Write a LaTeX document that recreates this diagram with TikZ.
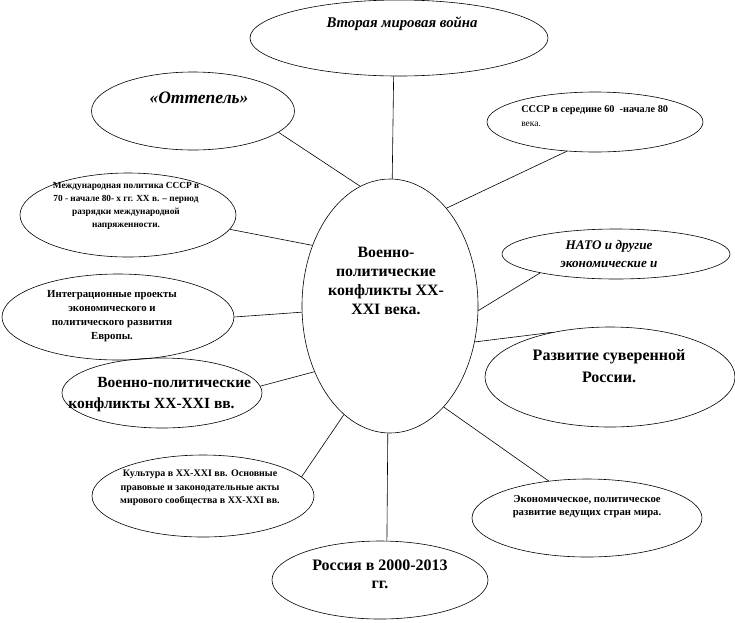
\documentclass[tikz,border=0pt]{standalone}
\usepackage{fontspec}
\setmainfont{Liberation Serif}
\usepackage{tikz}
\usetikzlibrary{shapes.geometric}
\newcommand{\fsz}[2]{\fontsize{#1}{#2}\selectfont}

\begin{document}
\begin{tikzpicture}[x=1pt,y=-1pt,line width=0.6pt,
  bubble/.style={draw,ellipse,inner sep=0pt},
  txt/.style={align=center,inner sep=0pt,font=\bfseries}]
  \useasboundingbox (0,0) rectangle (735,622);
  % ellipses
  \node[bubble,minimum width=176pt,minimum height=254pt](hub) at (390,306) {};
  \node[bubble,minimum width=298pt,minimum height=76pt](war) at (399,38) {};
  \node[bubble,minimum width=203pt,minimum height=78pt](thaw) at (193,111) {};
  \node[bubble,minimum width=216pt,minimum height=60pt](ussr) at (595,122) {};
  \node[bubble,minimum width=216pt,minimum height=84pt](intl) at (128,215) {};
  \node[bubble,minimum width=228pt,minimum height=50pt](nato) at (616,254) {};
  \node[bubble,minimum width=232pt,minimum height=86pt](integ) at (118,317) {};
  \node[bubble,minimum width=250pt,minimum height=100pt](devel) at (610,377) {};
  \node[bubble,minimum width=200pt,minimum height=70pt](wars) at (162,393) {};
  \node[bubble,minimum width=222pt,minimum height=82pt](cult) at (203,496) {};
  \node[bubble,minimum width=230pt,minimum height=78pt](econ) at (587,518) {};
  \node[bubble,minimum width=216pt,minimum height=78pt](russia) at (380,580) {};
  % texts
  \node[txt,font=\bfseries\fsz{15.8}{19}](hub-t) at (386,281) {Военно-\\политические\\конфликты XX-\\XXI века.};
  \node[txt,font=\bfseries\itshape\fsz{14.8}{17}](war-t) at (402,24) {Вторая мировая война};
  \node[txt,font=\bfseries\itshape\fsz{17.5}{20}](thaw-t) at (199,98) {«Оттепель»};
  \node[txt,align=left,anchor=west,font=\fsz{10.3}{14}](ussr-t) at (521,116) {\textbf{СССР в середине 60\ \ -начале 80}\\{\fsz{9.5}{14}века.}};
  \node[txt,font=\bfseries\fsz{9.3}{13}](intl-t) at (126,206) {Международная политика СССР в\\70 - начале 80- х гг. XX в. – период\\разрядки международной\\напряженности.};
  \node[txt,font=\bfseries\itshape\fsz{13.2}{18}](nato-t) at (609,254) {НАТО и другие\\экономические и};
  \node[txt,font=\bfseries\fsz{10.8}{14}](integ-t) at (112,316) {Интеграционные проекты\\экономического и\\политического развития\\Европы.};
  \node[txt,font=\bfseries\fsz{16}{22}](devel-t) at (609,366) {Развитие суверенной\\России.};
  \node[txt,align=left,anchor=west,font=\bfseries\fsz{15.5}{21}](wars-t) at (68,395) {\hspace{29pt}Военно-политические\\конфликты XX-XXI вв.};
  \node[txt,font=\bfseries\fsz{10}{13.5}](cult-t) at (200,488) {Культура в XX-XXI вв. Основные\\правовые и законодательные акты\\мирового сообщества в XX-XXI вв.};
  \node[txt,font=\bfseries\fsz{10.7}{13}](econ-t) at (587,507) {Экономическое, политическое\\развитие ведущих стран мира.};
  \node[txt,font=\bfseries\fsz{16}{18}](russia-t) at (380,574) {Россия в 2000-2013\\гг.};
  % spokes
  \draw (hub.89)--(war.262);
  \draw (hub.104)--(thaw.-14);
  \draw (hub.60)--(ussr.-134);
  \draw (hub.142)--(intl.-8);
  \draw (hub.-3)--(nato.194);
  \draw (hub.184)--(integ.0);
  \draw (hub.-23)--(devel.142);
  \draw (hub.221)--(wars.4);
  \draw (hub.247)--(cult.11);
  \draw (hub.-62)--(econ.136);
  \draw (hub.269)--(russia.80);
\end{tikzpicture}
\end{document}
